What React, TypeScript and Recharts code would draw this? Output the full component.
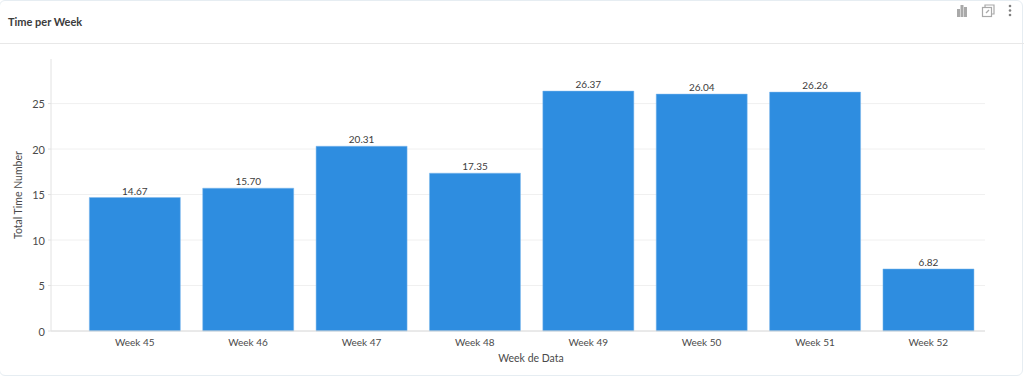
import { Bar, BarChart, CartesianGrid, LabelList, XAxis, YAxis } from "recharts";

const WEEKS = ["Week 45", "Week 46", "Week 47", "Week 48", "Week 49", "Week 50", "Week 51", "Week 52"];
const TOTAL_TIME = [14.67, 15.7, 20.31, 17.35, 26.37, 26.04, 26.26, 6.82];
const Y_TICKS = [0, 5, 10, 15, 20, 25];
const GRID_VALUES = [5, 10, 15, 20, 25];

const data = WEEKS.map((week, i) => ({ week, time: TOTAL_TIME[i] }));
const FONT = "Lato, sans-serif";
const TEXT = "#4a4a4a";

function HeaderIcons() {
  return (
    <svg width="60" height="24" style={{ position: "absolute", left: 955, top: 0 }}>
      <g fill="#a9a9a9">
        <rect x="2" y="9" width="3" height="8" />
        <rect x="5.500" y="5" width="3" height="12" />
        <rect x="9" y="7" width="3" height="10" />
      </g>
      <g fill="none" stroke="#a9a9a9" strokeWidth="1.2">
        <rect x="27.500" y="7.500" width="9" height="9" />
        <path d="M30 7V5H39V14H37" />
        <path d="M31 13L34 10" />
      </g>
      <g fill="#808080">
        <circle cx="55" cy="6" r="1.3" />
        <circle cx="55" cy="10.500" r="1.3" />
        <circle cx="55" cy="15" r="1.3" />
      </g>
    </svg>
  );
}

export default function App() {
  return (
    <div style={{ position: "absolute", left: 0, top: 0, width: 1024, height: 379, background: "#fff", overflow: "hidden" }}>
      <div style={{ position: "absolute", left: -1, top: 0, width: 1024, height: 376, border: "1px solid #e6edf2", borderRadius: 6, boxSizing: "border-box" }} />
      <div style={{ position: "absolute", left: 0, top: 43, width: 1024, height: 1, background: "#e8e8e8" }} />
      <div style={{ position: "absolute", left: 8, top: 15, fontFamily: FONT, fontSize: 11, fontWeight: 700, color: "#3c3c3c" }}>
        Time per Week
      </div>
      <HeaderIcons />
      <div style={{ position: "absolute", left: 0, top: 0 }}>
        <BarChart width={1024} height={379} data={data} barCategoryGap="10%"
          margin={{ top: 59, right: 39, bottom: 0, left: 11 }}>
          <CartesianGrid vertical={false} stroke="#f0f0f0" horizontalValues={GRID_VALUES} />
          <XAxis dataKey="week" height={48} padding={{ left: 27, right: 0 }} interval={0}
            axisLine={{ stroke: "#d4d4d4" }} tickLine={false} tickMargin={2}
            tick={{ fontSize: 10, fontFamily: FONT, fill: TEXT }}
            label={{ value: "Week de Data", position: "insideBottom", offset: 17, dx: 13, fontSize: 10.500, fontFamily: FONT, fill: TEXT }} />
          <YAxis width={40} domain={[0, 29.9]} ticks={Y_TICKS} axisLine={{ stroke: "#e2e2e2" }}
            tickLine={{ stroke: "#e2e2e2" }} tickSize={3} tickMargin={3}
            tick={{ fontSize: 11, fontFamily: FONT, fill: TEXT, dy: 1 }}
            label={{ value: "Total Time Number", angle: -90, position: "insideLeft", offset: 7, dy: 44, fontSize: 10.500, fontFamily: FONT, fill: TEXT }} />
          <Bar dataKey="time" fill="#2e8de0" stroke="#7fb9ec" strokeWidth={0.5} isAnimationActive={false}>
            <LabelList dataKey="time" position="top" offset={3} formatter={(v: number) => v.toFixed(2)}
              style={{ fontSize: 10, fontFamily: FONT, fill: "#3c3c3c" }} />
          </Bar>
        </BarChart>
      </div>
    </div>
  );
}
